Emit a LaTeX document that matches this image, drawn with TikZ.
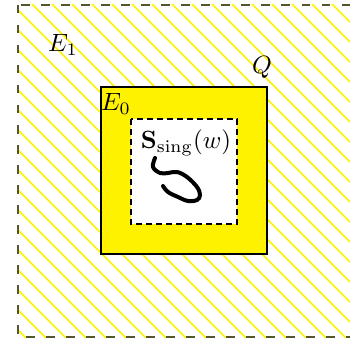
\documentclass[tikz,border=0pt]{standalone}
\usepackage{amsmath,amssymb}
\usetikzlibrary{calc}
\definecolor{framegray}{RGB}{85,85,45}
\tikzset{
  hatchline/.style={yellow,line width=0.65pt},
  outerframe/.style={framegray,line width=0.9pt,dash pattern=on 3.4pt off 4.6pt},
  innerframe/.style={black,line width=0.6pt,dash pattern=on 2.4pt off 1.6pt},
  setlabel/.style={inner sep=0pt}
}

\begin{document}
\begin{tikzpicture}[x=0.4pt,y=-0.4pt]
\useasboundingbox (0,0) rectangle (350,338);
% hatched region E_1
\begin{scope}
\clip (18,5) rectangle (360,337);
\foreach \c in {-348,-328,...,332} {\draw[hatchline] (-20,\c-20) -- (400,\c+400);}
\end{scope}
\draw[outerframe] (18,5) rectangle (352,337);
% set Q
\draw[fill=yellow,line width=1.1pt] (101,87) rectangle (267,254);
% singular set
\draw[innerframe,fill=white] (131,119) rectangle (237,224);
\draw[line width=1.6pt,line cap=round] plot[smooth,tension=0.6] coordinates
  {(155,158) (153,167) (160,173) (168,173) (177,172) (187,177) (197,187) (200,195) (197,200) (188,201) (178,197) (168,192) (163,186)};
% labels
\node[setlabel] (e1) at (63,45) {$E_1$};
\node[setlabel] (e0) at (116,104) {$E_0$};
\node[setlabel] (q) at (262,67) {$Q$};
\node[setlabel] (ssing) at (186,143) {$\mathbf{S}_{\mathrm{sing}}(w)$};
\end{tikzpicture}
\end{document}
